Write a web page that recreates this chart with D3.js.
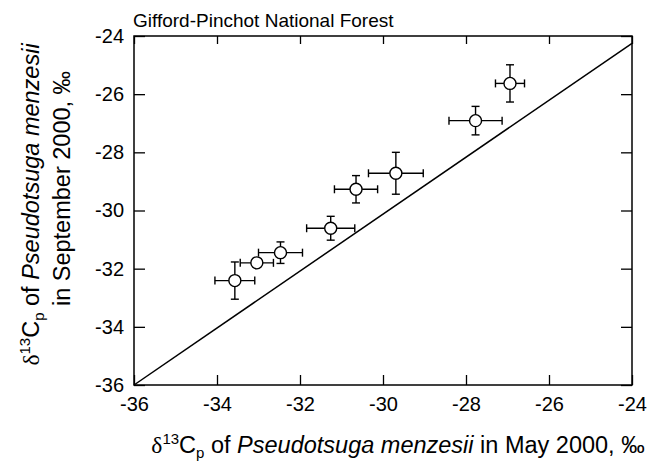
<!DOCTYPE html>
<html>
<head>
  <meta charset="utf-8">
  <script src="https://d3js.org/d3.v7.min.js"></script>
  <style>
    body { margin: 0; background: #fff; }
    text { font-family: "Liberation Sans", Arial, sans-serif; fill: #000; }
  </style>
</head>
<body>
<div id="chart"></div>
<script>
// d13C of Pseudotsuga menzesii, May (x) vs September (y) 2000
var mayVals  = [-33.57, -33.04, -32.47, -31.26, -30.65, -29.69, -27.77, -26.94];
var mayErr   = [0.48, 0.40, 0.53, 0.58, 0.52, 0.66, 0.64, 0.35];
var septVals = [-32.41, -31.80, -31.45, -30.61, -29.27, -28.72, -26.91, -25.63];
var septErr  = [0.64, 0.15, 0.37, 0.41, 0.47, 0.72, 0.49, 0.64];
var ticks = [-36, -34, -32, -30, -28, -26, -24];
var oneToOne = [[-36, -36], [-24, -24.25]];

var points = mayVals.map(function(d, i) {
  return {x: d, xe: mayErr[i], y: septVals[i], ye: septErr[i]};
});

var margin = {top: 36, right: 29, bottom: 84, left: 134},
    width = 661 - margin.left - margin.right,
    height = 469 - margin.top - margin.bottom;

var svg = d3.select("#chart")
  .append("svg")
    .attr("width", 661)
    .attr("height", 469)
  .append("g")
    .attr("transform", "translate(" + margin.left + "," + margin.top + ")");

var x = d3.scaleLinear().domain([-36, -24]).range([0, width]);
var y = d3.scaleLinear().domain([-36, -24]).range([height, 0]);

// axes, ticks pointing inwards
svg.append("g")
  .attr("class", "axis")
  .attr("transform", "translate(0," + height + ")")
  .call(d3.axisBottom(x).tickValues(ticks).tickSizeInner(-10).tickSizeOuter(0).tickPadding(12)
    .tickFormat(function(d) { return d; }));
svg.append("g")
  .attr("class", "axis")
  .call(d3.axisLeft(y).tickValues(ticks).tickSizeInner(-11).tickSizeOuter(0).tickPadding(10)
    .tickFormat(function(d) { return d; }));
svg.append("g")
  .attr("class", "axis")
  .call(d3.axisTop(x).tickValues(ticks).tickSizeInner(-8).tickSizeOuter(0).tickFormat(""));
svg.append("g")
  .attr("class", "axis")
  .attr("transform", "translate(" + width + ",0)")
  .call(d3.axisRight(y).tickValues(ticks).tickSizeInner(-11).tickSizeOuter(0).tickFormat(""));

svg.selectAll(".axis .domain").remove();
svg.selectAll(".axis line").attr("stroke", "#000").attr("stroke-width", 1.3);
svg.selectAll(".axis text")
  .style("font-size", "20px")
  .style("font-family", "'Liberation Sans', Arial, sans-serif")
  .attr("fill", "#000");

// frame
svg.append("rect")
  .attr("width", width)
  .attr("height", height)
  .attr("fill", "none")
  .attr("stroke", "#000")
  .attr("stroke-width", 1.5);

// 1:1 line
svg.append("line")
  .attr("x1", x(oneToOne[0][0])).attr("y1", y(oneToOne[0][1]))
  .attr("x2", x(oneToOne[1][0])).attr("y2", y(oneToOne[1][1]))
  .attr("stroke", "#000")
  .attr("stroke-width", 1.5);

// error bars
var cap = 4;
var eb = svg.selectAll(".eb")
  .data(points)
  .enter()
  .append("g")
  .attr("stroke", "#000")
  .attr("stroke-width", 1.4);

eb.append("line")
  .attr("x1", function(d) { return x(d.x - d.xe); })
  .attr("x2", function(d) { return x(d.x + d.xe); })
  .attr("y1", function(d) { return y(d.y); })
  .attr("y2", function(d) { return y(d.y); });
eb.append("line")
  .attr("x1", function(d) { return x(d.x); })
  .attr("x2", function(d) { return x(d.x); })
  .attr("y1", function(d) { return y(d.y - d.ye); })
  .attr("y2", function(d) { return y(d.y + d.ye); });
// caps
[-1, 1].forEach(function(s) {
  eb.append("line")
    .attr("x1", function(d) { return x(d.x + s * d.xe); })
    .attr("x2", function(d) { return x(d.x + s * d.xe); })
    .attr("y1", function(d) { return y(d.y) - cap; })
    .attr("y2", function(d) { return y(d.y) + cap; });
  eb.append("line")
    .attr("x1", function(d) { return x(d.x) - cap; })
    .attr("x2", function(d) { return x(d.x) + cap; })
    .attr("y1", function(d) { return y(d.y + s * d.ye); })
    .attr("y2", function(d) { return y(d.y + s * d.ye); });
});

// points
svg.selectAll(".pt")
  .data(points)
  .enter()
  .append("circle")
  .attr("cx", function(d) { return x(d.x); })
  .attr("cy", function(d) { return y(d.y); })
  .attr("r", 6)
  .attr("fill", "#fff")
  .attr("stroke", "#000")
  .attr("stroke-width", 1.4);

// title
svg.append("text")
  .attr("x", -1)
  .attr("y", -9)
  .style("font-size", "19px")
  .text("Gifford-Pinchot National Forest");

// axis titles
function isoLabel(sel) {
  sel.append("tspan").style("font-family", "'Liberation Serif', 'Times New Roman', serif").text("\u03b4");
  sel.append("tspan").attr("dy", -9).style("font-size", "15px").text("13");
  sel.append("tspan").attr("dy", 9).text("C");
  sel.append("tspan").attr("dy", 5).style("font-size", "15px").text("p");
  sel.append("tspan").attr("dy", -5).text(" of ");
  sel.append("tspan").style("font-style", "italic").text("Pseudotsuga menzesii");
}

var xt = svg.append("text")
  .attr("x", width / 2 + 15)
  .attr("y", height + 68)
  .attr("text-anchor", "middle")
  .style("font-size", "23.5px");
isoLabel(xt);
xt.append("tspan").text(" in May 2000, \u2030");

var yt = svg.append("text")
  .attr("transform", "translate(" + (39 - margin.left) + "," + (height / 2 - 6) + ")rotate(-90)")
  .attr("text-anchor", "middle")
  .style("font-size", "23.5px");
isoLabel(yt);

svg.append("text")
  .attr("transform", "translate(" + (70 - margin.left) + "," + (height / 2 - 22) + ")rotate(-90)")
  .attr("text-anchor", "middle")
  .style("font-size", "23.5px")
  .text("in September 2000, \u2030");
</script>
</body>
</html>
